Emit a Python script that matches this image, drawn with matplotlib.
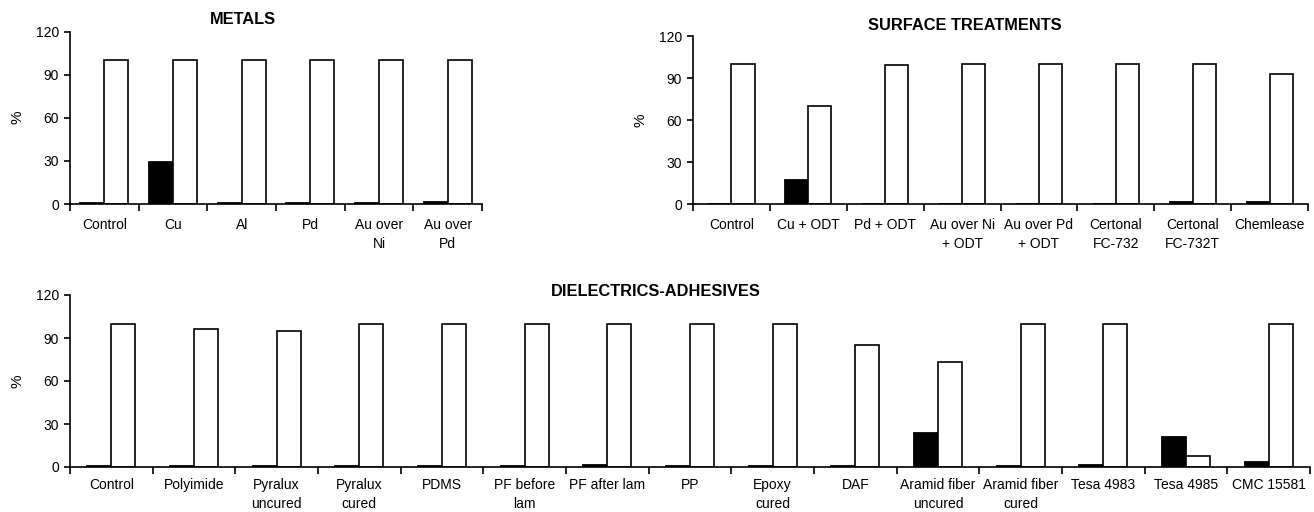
import matplotlib
matplotlib.use("Agg")
import matplotlib.pyplot as plt
import numpy as np
from matplotlib import font_manager

# ---------------- data ----------------
metals_labels = ["Control", "Cu", "Al", "Pd", "Au over\nNi", "Au over\nPd"]
metals_black = [0.5, 29, 0.5, 0.5, 0.5, 1.5]
metals_white = [100, 100, 100, 100, 100, 100]

surface_labels = ["Control", "Cu + ODT", "Pd + ODT", "Au over Ni\n+ ODT", "Au over Pd\n+ ODT",
                  "Certonal\nFC-732", "Certonal\nFC-732T", "Chemlease"]
surface_black = [0, 17, 0, 0, 0, 0, 1.5, 1.5]
surface_white = [100, 70, 99, 100, 100, 100, 100, 93]

diel_labels = ["Control", "Polyimide", "Pyralux\nuncured", "Pyralux\ncured", "PDMS", "PF before\nlam",
               "PF after lam", "PP", "Epoxy\ncured", "DAF", "Aramid fiber\nuncured", "Aramid fiber\ncured",
               "Tesa 4983", "Tesa 4985", "CMC 15581"]
diel_black = [0.5, 0.5, 0.5, 0.5, 0.5, 0.5, 1.5, 0.5, 0.5, 0.5, 24, 0.5, 1.5, 21, 3.5]
diel_white = [100, 96, 95, 100, 100, 100, 100, 100, 100, 85, 73, 100, 100, 7.5, 100]

yticks = [0, 30, 60, 90, 120]

# ---------------- fonts ----------------
avail = {f.name for f in font_manager.fontManager.ttflist}
fam = "Liberation Sans Narrow" if "Liberation Sans Narrow" in avail else "Liberation Sans"
plt.rcParams["font.family"] = [fam, "DejaVu Sans"]

W, H = 1314, 512
fig = plt.figure(figsize=(W / 100, H / 100), dpi=100)


def px_axes(left, right, top, bottom):
    return fig.add_axes([left / W, 1 - bottom / H, (right - left) / W, (bottom - top) / H])


def draw(ax, labels, black, white, bw, pad):
    n = len(labels)
    x = np.arange(n)
    ax.bar(x - bw / 2, black, width=bw, color="black", edgecolor="black", linewidth=1.3)
    ax.bar(x + bw / 2, white, width=bw, color="white", edgecolor="black", linewidth=1.2)
    ax.set_xlim(-0.5, n - 0.5)
    ax.set_ylim(0, 120)
    ax.set_yticks(yticks)
    ax.set_yticklabels([str(v) for v in yticks], fontsize=10)
    ax.set_xticks(x)
    ax.set_xticklabels(labels, fontsize=10, linespacing=1.45, va="top")
    ax.tick_params(axis="x", which="major", length=0, pad=pad)
    ax.set_xticks(np.arange(n + 1) - 0.5, minor=True)
    ax.tick_params(axis="x", which="minor", length=5, width=1.2, direction="out")
    ax.tick_params(axis="y", length=4, width=1.2, direction="out", pad=4)
    for s in ["top", "right"]:
        ax.spines[s].set_visible(False)
    for s in ["left", "bottom"]:
        ax.spines[s].set_linewidth(1.2)
    ax.set_ylabel("%", fontsize=11, labelpad=8)


ax1 = px_axes(70, 482, 31.5, 204)
draw(ax1, metals_labels, metals_black, metals_white, 0.35, 10)
ax2 = px_axes(693, 1308, 36, 204)
draw(ax2, surface_labels, surface_black, surface_white, 0.30, 10)
ax3 = px_axes(70, 1310, 295, 467)
draw(ax3, diel_labels, diel_black, diel_white, 0.29, 8)

fig.text(243 / W, 1 - 20 / H, "METALS", ha="center", va="center", fontsize=11.8, fontweight="bold")
fig.text(965 / W, 1 - 25 / H, "SURFACE TREATMENTS", ha="center", va="center", fontsize=11.8, fontweight="bold")
fig.text(656 / W, 1 - 291 / H, "DIELECTRICS-ADHESIVES", ha="center", va="center", fontsize=11.8, fontweight="bold")

fig.savefig("out.png", dpi=100)
